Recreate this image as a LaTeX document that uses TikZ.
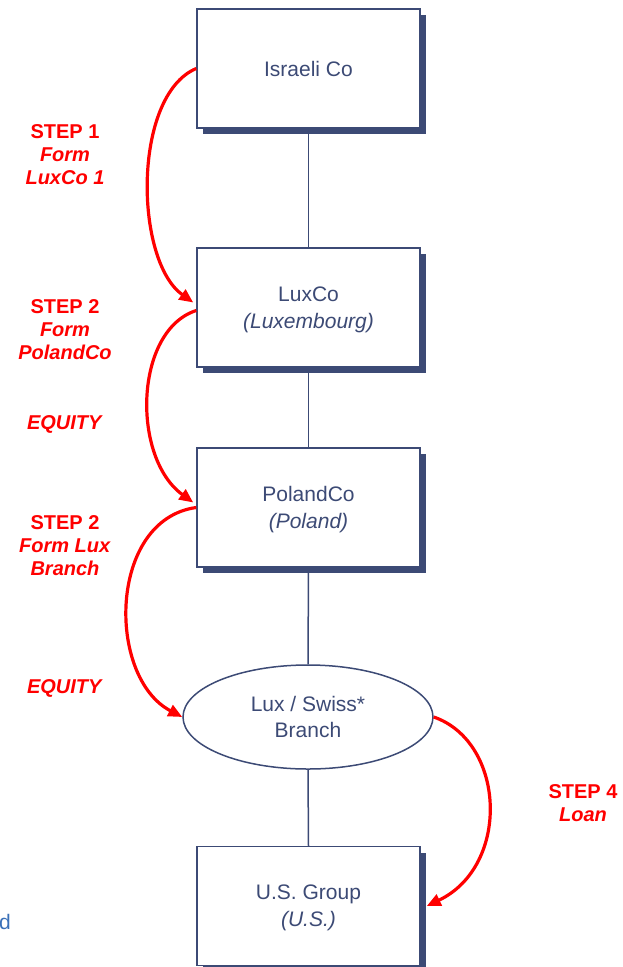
\documentclass[tikz,border=0pt]{standalone}
\usepackage{fontspec}
\setmainfont{Liberation Sans}
\usetikzlibrary{shapes.geometric,shadows,arrows.meta}
\definecolor{navy}{HTML}{3C4A75}
\definecolor{stepred}{HTML}{FF0000}
\definecolor{noteblue}{HTML}{3A70B8}
\tikzset{
  entity/.style={draw=navy, line width=1.5pt, fill=white, text=navy,
    minimum width=223pt, minimum height=119pt, align=center, text depth=-2.5pt,
    font=\fontsize{21}{27}\selectfont,
    drop shadow={shadow xshift=6pt, shadow yshift=-6pt, fill=navy, opacity=1}},
  branch/.style={ellipse, draw=navy, line width=1.5pt, fill=white, text=navy,
    minimum width=250pt, minimum height=104pt, align=center, inner sep=0pt,
    font=\fontsize{21}{26}\selectfont},
  link/.style={draw=navy, line width=1.5pt},
  move/.style={draw=stepred, line width=3.2pt, -{Triangle[length=14pt,width=12pt]}},
  steplabel/.style={text=stepred, align=center, font=\bfseries\fontsize{20}{23}\selectfont}
}

\begin{document}
\begin{tikzpicture}[x=1pt, y=-1pt]
\useasboundingbox (0,0) rectangle (623,967);
% Entities
    \node[entity] (israeli) at (308.5,68.5) {Israeli Co};
    \node[entity] (luxco) at (308.5,307.5) {LuxCo\\\textit{(Luxembourg)}};
    \node[entity] (polandco) at (308.5,507.5) {PolandCo\\\textit{(Poland)}};
    \node[branch] (branch) at (308,717) {Lux / Swiss*\\Branch};
    \node[entity] (usgroup) at (308.5,906) {U.S. Group\\\textit{(U.S.)}};
% Ownership lines
    \draw[link] (israeli.south) -- (luxco.north);
    \draw[link] (luxco.south) -- (polandco.north);
    \draw[link] (polandco.south) -- (branch.north);
    \draw[link] (branch.south) -- (usgroup.north);
% Steps
    \draw[move] (israeli.west) .. controls +(-64,27) and +(-59,-42) .. ([shift={(-3,-5)}]luxco.west);
    \draw[move] ([shift={(0,3)}]luxco.west) .. controls +(-62,20) and +(-62,-45) .. ([shift={(-3,-5)}]polandco.west);
    \draw[move] (polandco.west) .. controls +(-88,12) and +(-76,-40) .. (branch.west);
    \draw[move] (branch.east) .. controls +(72,25) and +(84,-40) .. ([shift={(6,0)}]usgroup.east);
% Step labels
    \node[steplabel] (step1) at (65,155) {STEP 1\\\textit{Form}\\\textit{LuxCo 1}};
    \node[steplabel] (step2) at (65,330) {STEP 2\\\textit{Form}\\\textit{PolandCo}};
    \node[steplabel] (equity1) at (65,424) {\textit{EQUITY}};
    \node[steplabel] (step3) at (65,546) {STEP 2\\\textit{Form Lux}\\\textit{Branch}};
    \node[steplabel] (equity2) at (65,688) {\textit{EQUITY}};
    \node[steplabel] (step4) at (583,803) {STEP 4\\\textit{Loan}};
% Cut-off note
    \node[text=noteblue, font=\fontsize{21}{24}\selectfont, anchor=west, inner sep=0pt] (note) at (-1,922) {d};
\end{tikzpicture}
\end{document}
